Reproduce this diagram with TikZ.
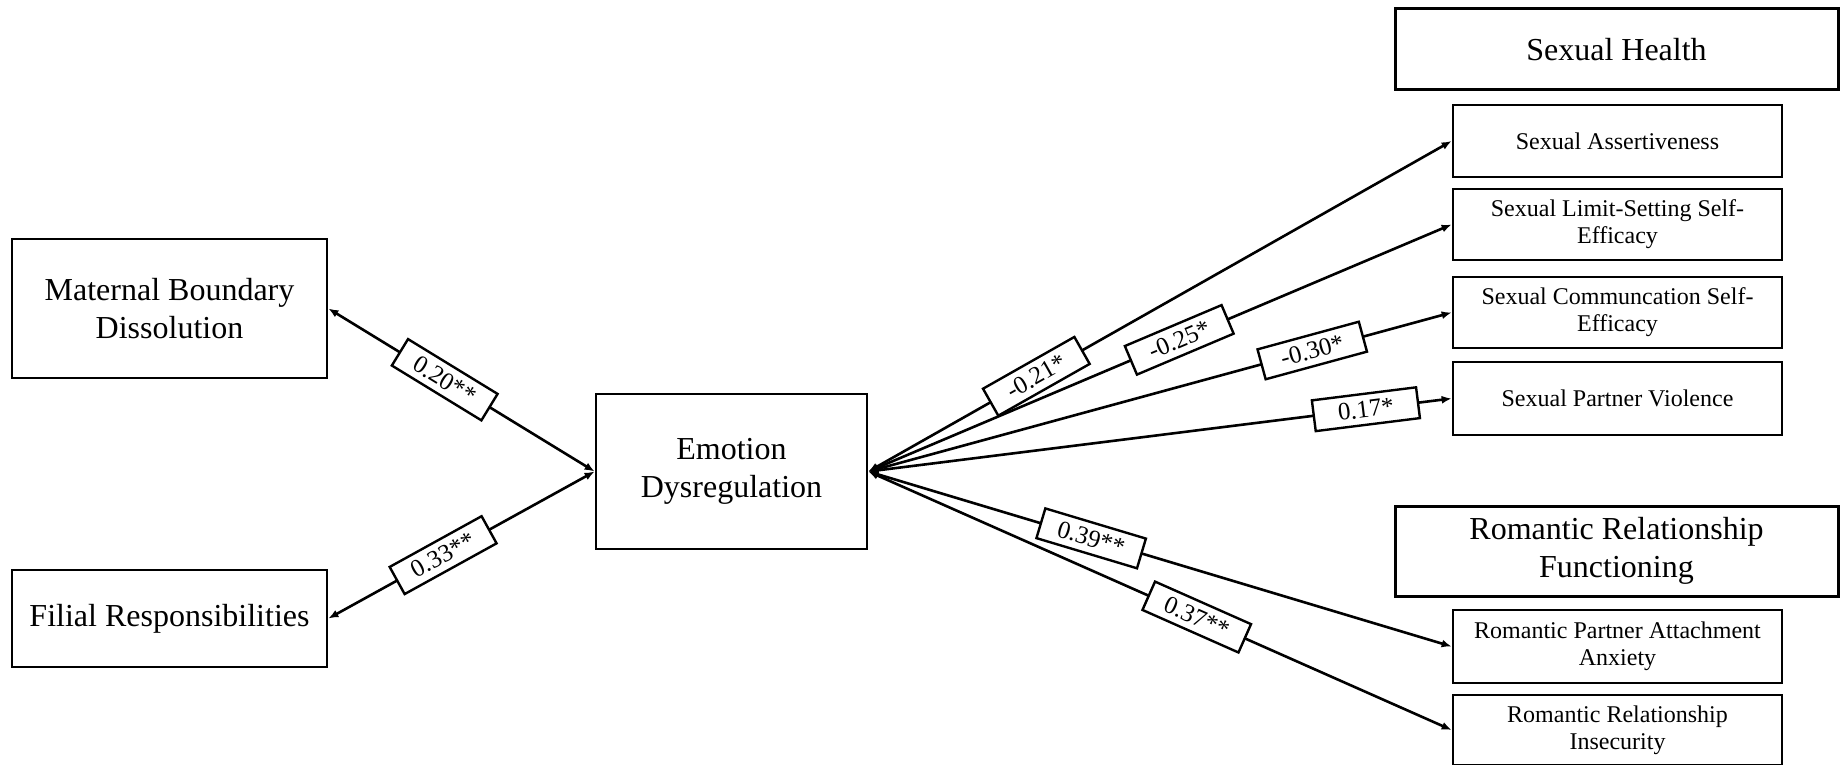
\documentclass[tikz,border=0pt]{standalone}
\usepackage{fontspec}
\setmainfont{Liberation Serif}
\usetikzlibrary{arrows.meta}
\begin{document}
\begin{tikzpicture}[x=0.5pt,y=-0.5pt,
  box/.style={draw, line width=1.35pt, align=center, inner sep=0pt},
  bigtxt/.style={font=\fontsize{16}{19}\selectfont},
  smalltxt/.style={font=\fontsize{12}{13.5}\selectfont},
  conn/.style={line width=1.3pt, {Latex[length=5pt,width=4pt]}-{Latex[length=5pt,width=4pt]}},
  lbl/.style={draw, fill=white, line width=1.2pt, sloped, minimum width=52.5pt, minimum height=15.5pt, inner sep=1pt, font=\fontsize{12.5}{14}\selectfont}]
\useasboundingbox (0,0) rectangle (1844,765);

\node[box,bigtxt,minimum width=157.5pt,minimum height=69.5pt] (mat) at (169.5,308.5) {Maternal Boundary\\Dissolution};
\node[box,bigtxt,minimum width=157.5pt,minimum height=48.5pt] (fil) at (169.5,618.5) {Filial Responsibilities};
\node[box,bigtxt,minimum width=135.5pt,minimum height=77.5pt] (emo) at (731.5,471.5) {Emotion\\Dysregulation};

\node[box,bigtxt,line width=1.5pt,minimum width=221.5pt,minimum height=40.5pt] (sh) at (1616.5,49.5) {Sexual Health};
\node[box,smalltxt,minimum width=164.5pt,minimum height=36pt] (a1) at (1617.5,141) {Sexual Assertiveness};
\node[box,smalltxt,minimum width=164.5pt,minimum height=35.5pt] (a2) at (1617.5,224.5) {Sexual Limit-Setting Self-\\Efficacy};
\node[box,smalltxt,minimum width=164.5pt,minimum height=35.5pt] (a3) at (1617.5,312.5) {Sexual Communcation Self-\\Efficacy};
\node[box,smalltxt,minimum width=164.5pt,minimum height=36.5pt] (a4) at (1617.5,398.5) {Sexual Partner Violence};

\node[box,bigtxt,line width=1.5pt,minimum width=221.5pt,minimum height=45pt] (rr) at (1616.5,551) {Romantic Relationship\\Functioning};
\node[box,smalltxt,minimum width=164.5pt,minimum height=36.5pt] (b1) at (1617.5,646.5) {Romantic Partner Attachment\\Anxiety};
\node[box,smalltxt,minimum width=164.5pt,minimum height=35pt] (b2) at (1617.5,730) {Romantic Relationship\\Insecurity};

\draw[conn] (emo.west) -- node[lbl,pos=0.563] {0.20**} (mat.east);
\draw[conn] (emo.west) -- node[lbl,pos=0.569] {0.33**} (fil.east);

\draw[conn] (emo.east) -- node[lbl,pos=0.288] {-0.21*} (a1.west);
\draw[conn] (emo.east) -- node[lbl,pos=0.533] {-0.25*} (a2.west);
\draw[conn] (emo.east) -- node[lbl,pos=0.761] {-0.30*} (a3.west);
\draw[conn] (emo.east) -- node[lbl,pos=0.853] {0.17*} (a4.west);
\draw[conn] (emo.east) -- node[lbl,pos=0.382] {0.39**} (b1.west);
\draw[conn] (emo.east) -- node[lbl,pos=0.563] {0.37**} (b2.west);
\end{tikzpicture}
\end{document}
